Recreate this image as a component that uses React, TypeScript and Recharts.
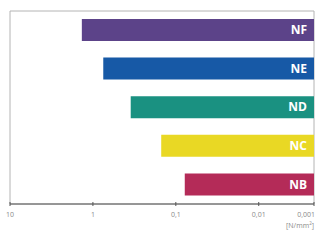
import { BarChart, Bar, XAxis, YAxis, Cell, LabelList, Label, ReferenceArea } from "recharts";

// strength classes, top to bottom
const classes = ["NF", "NE", "ND", "NC", "NB"];
const values = [1.36, 0.75, 0.35, 0.15, 0.078];
const colors = ["#5c4389", "#1759a6", "#1a9181", "#e9d824", "#b42b58"];

const tickValues = [10, 1, 0.1, 0.01, 0.001];
const tickLabels = ["10", "1", "0,1", "0,01", "0,001"];
const floorValue = 0.001;

// the printed axis squeezes the last decade to about 2/3 of the others
function pos(v: number) {
  const d = 1 - Math.log10(v);
  return d <= 3 ? d : 3 + ((d - 3) * 2) / 3;
}

const data = classes.map((name, i) => ({
  name,
  range: [pos(values[i]), pos(floorValue)],
}));

const tickPositions = tickValues.map(pos);
const maxPos = pos(floorValue);

function AxisTick(props: any) {
  const { x, y, payload } = props;
  const i = tickPositions.findIndex((p) => Math.abs(p - payload.value) < 1e-6);
  const last = i === tickPositions.length - 1;
  return (
    <g>
      <line x1={x} x2={x} y1={y - 2} y2={y + 2} stroke="#555" strokeWidth={1} />
      <text
        x={last ? x + 1 : x}
        y={y + 13}
        textAnchor={last ? "end" : "middle"}
        fontSize={7}
        fill="#8a8a8a"
        fontFamily="'Open Sans', sans-serif"
      >
        {tickLabels[i]}
      </text>
    </g>
  );
}

function UnitLabel(props: any) {
  const vb = props.viewBox;
  return (
    <text
      x={vb.x + vb.width}
      y={vb.y + 24}
      textAnchor="end"
      fontSize={7}
      fill="#8a8a8a"
      fontFamily="'Open Sans', sans-serif"
    >
      [N/mm
      <tspan fontSize={4.5} dy={-3}>2</tspan>
      <tspan dy={3}>]</tspan>
    </text>
  );
}

export default function App() {
  return (
    <div style={{ position: "absolute", left: 0, top: 0, width: 320, height: 247, background: "#fff" }}>
      <BarChart
        width={320}
        height={247}
        data={data}
        layout="vertical"
        margin={{ top: 11, right: 6, left: 10, bottom: 13 }}
        barCategoryGap={0}
      >
        <XAxis
          type="number"
          domain={[0, maxPos]}
          ticks={tickPositions}
          interval={0}
          allowDataOverflow
          height={30}
          tickSize={0}
          tickMargin={0}
          tickLine={false}
          axisLine={{ stroke: "#555" }}
          tick={<AxisTick />}
        >
          <Label content={<UnitLabel />} />
        </XAxis>
        <YAxis
          type="category"
          dataKey="name"
          width={0}
          tick={false}
          tickLine={false}
          axisLine={false}
        />
        <ReferenceArea
          x1={0}
          x2={maxPos}
          y1={classes[0]}
          y2={classes[classes.length - 1]}
          fill="none"
          stroke="#b4b4b4"
          strokeWidth={1}
          ifOverflow="visible"
        />
        <Bar dataKey="range" barSize={22} isAnimationActive={false}>
          {data.map((d, i) => (
            <Cell key={d.name} fill={colors[i]} />
          ))}
          <LabelList
            dataKey="name"
            position="insideRight"
            offset={7}
            fill="#fff"
            fontSize={12}
            fontWeight="bold"
            fontFamily="'Open Sans', sans-serif"
          />
        </Bar>
        <YAxis
          yAxisId="frame"
          type="category"
          dataKey="name"
          width={0}
          tick={false}
          tickLine={false}
          axisLine={{ stroke: "#999" }}
        />
      </BarChart>
    </div>
  );
}
